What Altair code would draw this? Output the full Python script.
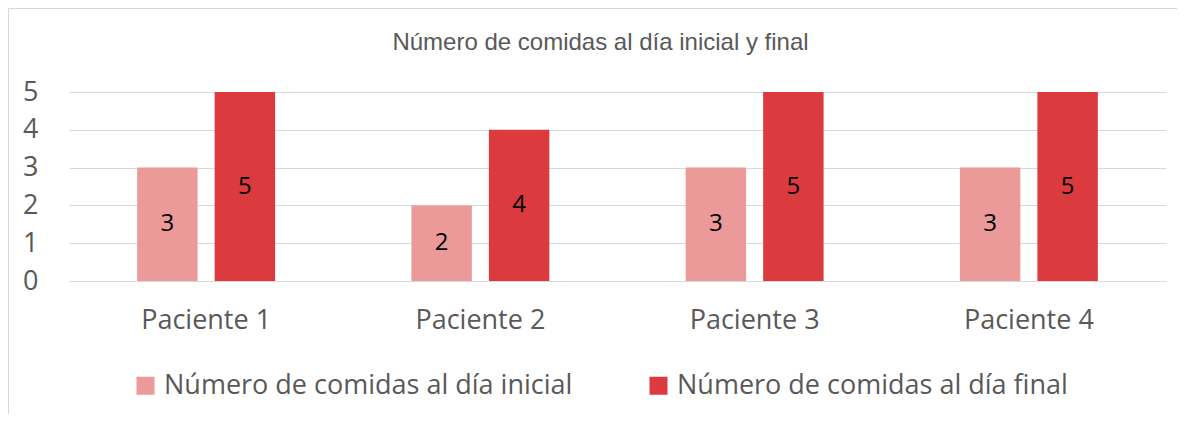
import altair as alt
import pandas as pd

patients = ["Paciente 1", "Paciente 2", "Paciente 3", "Paciente 4"]
series = ["Número de comidas al día inicial", "Número de comidas al día final"]
inicial = [3, 2, 3, 3]
final = [5, 4, 5, 5]
colors = ["#EC999A", "#DB3B3F"]
y_ticks = [0, 1, 2, 3, 4, 5]
title_text = "Número de comidas al día inicial y final"

rows = []
for i, p in enumerate(patients):
    rows.append({"paciente": p, "serie": series[0], "valor": inicial[i]})
    rows.append({"paciente": p, "serie": series[1], "valor": final[i]})
df = pd.DataFrame(rows)

GRAY = "#595959"
GRID = "#D9D9D9"

x = alt.X("paciente:N", sort=patients, title=None,
          scale=alt.Scale(paddingInner=0.497, paddingOuter=0.2485),
          axis=alt.Axis(labelAngle=0, labelFont="Open Sans", labelFontSize=27,
                        labelColor=GRAY, labelPadding=26, ticks=False,
                        domain=True, domainColor=GRID, grid=False))
xo = alt.XOffset("serie:N", sort=series,
                 scale=alt.Scale(paddingInner=0.22, paddingOuter=0))
y_scale = alt.Scale(domain=[0, 5], nice=False)
y_axis = alt.Axis(values=y_ticks, title=None, labelFont="Open Sans",
                  labelFontSize=27, labelColor=GRAY, labelPadding=31,
                  labelOverlap=False, labelBound=False,
                  ticks=False, domain=False, gridColor=GRID, gridWidth=1)
color = alt.Color("serie:N", sort=series,
                  scale=alt.Scale(domain=series, range=colors),
                  legend=alt.Legend(title=None, orient="none", legendX=63, legendY=280,
                                    direction="horizontal", symbolType="square",
                                    symbolSize=324, symbolStrokeWidth=0,
                                    labelFont="Open Sans", labelFontSize=27,
                                    labelColor=GRAY, labelOffset=5,
                                    columnPadding=72, padding=0, labelLimit=700))

base = alt.Chart(df)
bars = base.mark_bar().encode(
    x=x, xOffset=xo, y=alt.Y("valor:Q", scale=y_scale, axis=y_axis), color=color)
labels = base.transform_calculate(mid="datum.valor / 2").mark_text(
    font="Open Sans", fontSize=24, color="black", baseline="middle"
).encode(x=x, xOffset=xo, y=alt.Y("mid:Q", scale=y_scale, axis=y_axis), text="valor:Q")

border = alt.Chart(pd.DataFrame({"a": [0]})).mark_rect(
    fillOpacity=0, stroke=GRID, strokeWidth=1
).encode(x=alt.value(-60.5), x2=alt.value(1200), y=alt.value(-83.5), y2=alt.value(400))

chart = alt.layer(border, bars, labels).properties(
    width=1097, height=189,
    background="white",
    title=alt.TitleParams(title_text, font="Liberation Sans", fontSize=24,
                          fontWeight="normal", color=GRAY, anchor="middle",
                          dx=-17, offset=-47),
    autosize=alt.AutoSizeParams(type="none"),
    padding={"left": 61, "top": 84, "right": 11, "bottom": 133},
).configure_view(stroke=None)

chart.save("out.html", embed_options={"renderer": "svg", "actions": False})
